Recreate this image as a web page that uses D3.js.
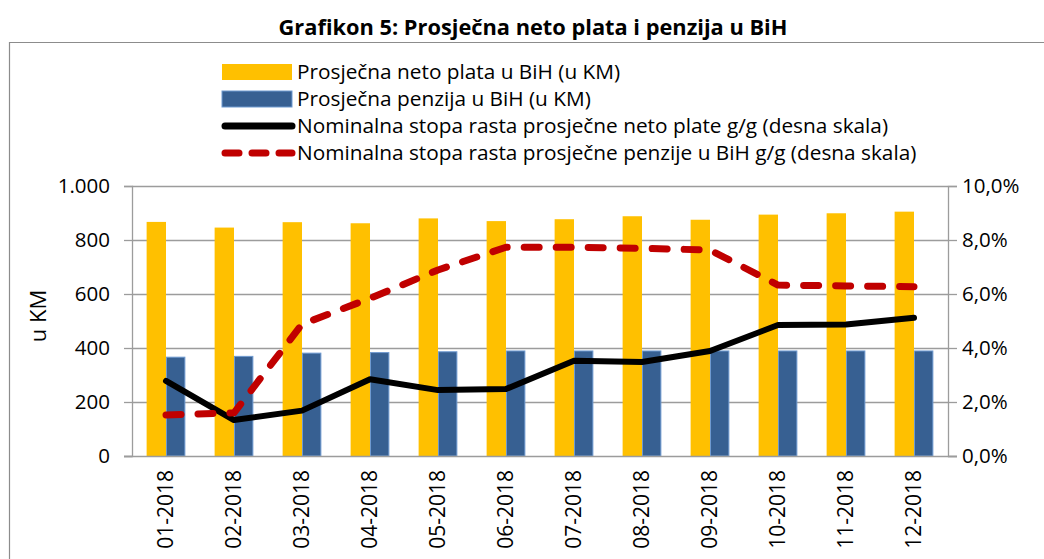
<!DOCTYPE html>
<html>
<head>
<meta charset="utf-8">
<script src="https://cdn.jsdelivr.net/npm/d3@7"></script>
<style>
body { margin: 0; background: #fff; }
text { font-family: "Open Sans", "Noto Sans", sans-serif; fill: #000; }
</style>
</head>
<body>
<script>
// data
var months = ["01-2018","02-2018","03-2018","04-2018","05-2018","06-2018",
  "07-2018","08-2018","09-2018","10-2018","11-2018","12-2018"];
var plata = [867, 846, 866, 862, 880, 870, 877, 888, 875, 894, 899, 905];
var penzija = [366, 369, 381, 383, 386, 389, 389, 389, 389, 389, 389, 389];
var rastPlate = [2.78, 1.33, 1.68, 2.84, 2.44, 2.48, 3.53, 3.48, 3.89, 4.85, 4.87, 5.12];
var rastPenzije = [1.52, 1.60, 4.88, 5.84, 6.89, 7.73, 7.73, 7.69, 7.63, 6.33, 6.30, 6.27];
var leftTicks = [0, 200, 400, 600, 800, 1000];
var rightTicks = [0, 2, 4, 6, 8, 10];

var width = 1044, height = 559;
var pLeft = 132, pRight = 948, pTop = 186, pBottom = 456;

var svg = d3.select("body").append("svg")
  .attr("width", width)
  .attr("height", height);

// outer frame of the chart
svg.append("path")
  .attr("d", "M9.5," + height + " V42.5 H" + width)
  .attr("fill", "none")
  .attr("stroke", "#8c8c8c")
  .attr("stroke-width", 1.2);

svg.append("text")
  .attr("x", 533).attr("y", 35)
  .attr("text-anchor", "middle")
  .attr("font-size", 21.8)
  .attr("font-weight", "bold")
  .text("Grafikon 5: Prosječna neto plata i penzija u BiH");

var x = d3.scaleBand().domain(months).range([pLeft, pRight]).paddingInner(0.43).paddingOuter(0.215);
var x1 = d3.scaleBand().domain(["plata","penzija"]).range([0, x.bandwidth()]);
var y = d3.scaleLinear().domain([0, 1000]).range([pBottom, pTop]);
var y2 = d3.scaleLinear().domain([0, 10]).range([pBottom, pTop]);
var cx = function(i) { return x(months[i]) + x.bandwidth() / 2; };

// gridlines
svg.append("g").selectAll("line")
  .data(leftTicks.slice(1)).enter().append("line")
  .attr("x1", pLeft).attr("x2", pRight)
  .attr("y1", function(d) { return Math.round(y(d)) + 0.5; })
  .attr("y2", function(d) { return Math.round(y(d)) + 0.5; })
  .attr("stroke", "#9c9c9c").attr("stroke-width", 1.3);

// axes
var fmtL = function(d) { return d3.format(",")(d).replace(",", "."); };
var fmtR = function(d) { return d.toFixed(1).replace(".", ",") + "%"; };

var gl = svg.append("g").attr("transform", "translate(" + pLeft + ",0)")
  .call(d3.axisLeft(y).tickValues(leftTicks).tickFormat(fmtL).tickSize(8).tickPadding(14));
var gr = svg.append("g").attr("transform", "translate(" + pRight + ",0)")
  .call(d3.axisRight(y2).tickValues(rightTicks).tickFormat(fmtR).tickSize(9).tickPadding(5));
[gl, gr].forEach(function(g) {
  g.select(".domain").attr("stroke", "#9c9c9c").attr("stroke-width", 1.3);
  g.selectAll(".tick line").attr("stroke", "#9c9c9c").attr("stroke-width", 1.3);
  g.selectAll(".tick text").attr("font-size", 20.5).attr("font-family", "Open Sans").attr("fill", "#000");
});

// bars
var groups = svg.append("g").selectAll("g")
  .data(months).enter().append("g")
  .attr("transform", function(d) { return "translate(" + x(d) + ",0)"; });
groups.append("rect")
  .attr("x", x1("plata")).attr("width", x1.bandwidth())
  .attr("y", function(d, i) { return y(plata[i]); })
  .attr("height", function(d, i) { return pBottom - y(plata[i]); })
  .attr("fill", "#FFC000");
groups.append("rect")
  .attr("x", x1("penzija") + 0.5).attr("width", x1.bandwidth() - 1)
  .attr("y", function(d, i) { return y(penzija[i]); })
  .attr("height", function(d, i) { return pBottom - y(penzija[i]); })
  .attr("fill", "#376092")
  .attr("stroke", "#6f9ad0").attr("stroke-width", 1);

// bottom axis line
svg.append("line")
  .attr("x1", pLeft - 8).attr("x2", pRight + 9)
  .attr("y1", pBottom + 0.5).attr("y2", pBottom + 0.5)
  .attr("stroke", "#9c9c9c").attr("stroke-width", 1.3);

// x labels, rotated
svg.append("g").selectAll("text")
  .data(months).enter().append("text")
  .attr("transform", function(d, i) { return "translate(" + (cx(i) + 7) + "," + (pBottom + 14) + ") rotate(-90)"; })
  .attr("text-anchor", "end")
  .attr("font-size", 21)
  .text(function(d) { return d; });

// lines
var line = d3.line().x(function(d, i) { return cx(i); }).y(function(d) { return y2(d); });
svg.append("path")
  .datum(rastPlate)
  .attr("d", line)
  .attr("fill", "none").attr("stroke", "#000").attr("stroke-width", 6)
  .attr("stroke-linejoin", "round").attr("stroke-linecap", "round");
svg.append("path")
  .datum(rastPenzije)
  .attr("d", line)
  .attr("fill", "none").attr("stroke", "#C00000").attr("stroke-width", 7)
  .attr("stroke-dasharray", "15,17")
  .attr("stroke-linejoin", "round").attr("stroke-linecap", "round");

// y title
svg.append("text")
  .attr("transform", "translate(46,316) rotate(-90)")
  .attr("text-anchor", "middle")
  .attr("font-size", 22)
  .text("u KM");

// legend
var legend = [
  {name: "Prosječna neto plata u BiH (u KM)", type: "bar", color: "#FFC000"},
  {name: "Prosječna penzija u BiH (u KM)", type: "bar", color: "#376092"},
  {name: "Nominalna stopa rasta prosječne neto plate g/g (desna skala)", type: "line", color: "#000"},
  {name: "Nominalna stopa rasta prosječne penzije u BiH g/g (desna skala)", type: "dash", color: "#C00000"}
];
var lg = svg.append("g").selectAll("g")
  .data(legend).enter().append("g")
  .attr("transform", function(d, i) { return "translate(222," + (72 + i * 27) + ")"; });
lg.filter(function(d) { return d.type === "bar"; }).append("rect")
  .attr("x", 0).attr("y", -8).attr("width", 70).attr("height", 16)
  .attr("fill", function(d) { return d.color; })
  .attr("stroke", function(d) { return d.color === "#376092" ? "#6f9ad0" : "none"; });
lg.filter(function(d) { return d.type !== "bar"; }).append("line")
  .attr("x1", 3).attr("x2", 70).attr("y1", 0).attr("y2", 0)
  .attr("stroke", function(d) { return d.color; })
  .attr("stroke-width", 7)
  .attr("stroke-linecap", "round")
  .attr("stroke-dasharray", function(d) { return d.type === "dash" ? "14,13" : null; });
lg.append("text")
  .attr("x", 75).attr("dy", "0.35em")
  .attr("font-size", 20.8)
  .text(function(d) { return d.name; });
</script>
</body>
</html>
